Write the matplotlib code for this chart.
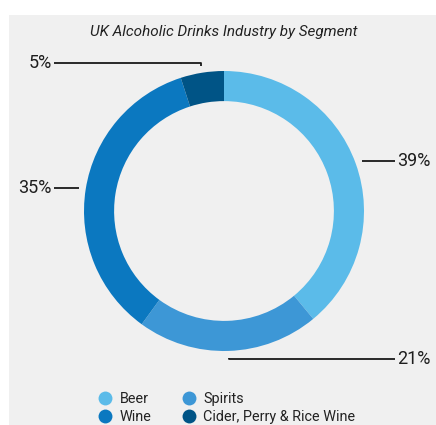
import numpy as np
import matplotlib
matplotlib.use("Agg")
import matplotlib.pyplot as plt
from matplotlib.patches import Rectangle
from matplotlib.lines import Line2D

plt.rcParams['font.family'] = ['Roboto', 'DejaVu Sans']

title = "UK Alcoholic Drinks Industry by Segment"
segments = ["Beer", "Spirits", "Wine", "Cider, Perry & Rice Wine"]
shares = [39, 21, 35, 5]
colors = ["#5bbbe9", "#3d97d6", "#0b78c0", "#005486"]

W, H = 436, 425
fig = plt.figure(figsize=(W / 100, H / 100), dpi=100, facecolor="white")
fig.patches.append(Rectangle((9 / W, 0), 1 - 9 / W, (H - 15) / H,
                             transform=fig.transFigure, facecolor="#f0f0f0",
                             edgecolor="none", zorder=-10))

cx, cy, r = 224, 211, 140
ax = fig.add_axes([(cx - r) / W, (H - cy - r) / H, 2 * r / W, 2 * r / H])
ax.set_zorder(5)
ax.set_facecolor("none")
wedges, _ = ax.pie(shares, colors=colors, startangle=90, counterclock=False,
                   radius=1.0, wedgeprops=dict(width=0.215, edgecolor="none"))
ax.set_xlim(-1, 1)
ax.set_ylim(-1, 1)
ax.set_aspect("equal")
ax.axis("off")

# leader lines and labels
for w, v in zip(wedges, shares):
    mid = np.deg2rad((w.theta1 + w.theta2) / 2)
    px, py = 1.05 * np.cos(mid), 1.05 * np.sin(mid)
    side = 1 if px > 0 else -1
    ly = py
    if abs(py) > 0.95:
        ly = np.sign(py) * 1.057
    ex = 1.22 if side > 0 else -1.215
    ax.plot([px, px, ex], [py, ly, ly], color="#1a1a1a", lw=1.3,
            clip_on=False, solid_capstyle="butt")
    ax.text(ex + side * 0.015, ly, f"{v}%", ha="left" if side > 0 else "right",
            va="center", fontsize=13, color="#1e1e1e")

fig.text(cx / W, 1 - 32 / H, title, ha="center", va="center",
         fontsize=11, style="italic", color="#222222")

order = [0, 2, 1, 3]
handles = [Line2D([], [], marker="o", ls="none", markersize=10,
                  markerfacecolor=colors[i], markeredgecolor="none")
           for i in order]
labels = [segments[i] for i in order]
fig.legend(handles, labels, ncol=2, loc="upper left",
           bbox_to_anchor=(91 / W, 1 - 385 / H), frameon=False,
           fontsize=10.4, handlelength=1.0, handletextpad=0.5,
           columnspacing=2.05, labelspacing=0.25, borderpad=0,
           labelcolor="#222222")

fig.savefig("out.png", dpi=100, facecolor="white")
